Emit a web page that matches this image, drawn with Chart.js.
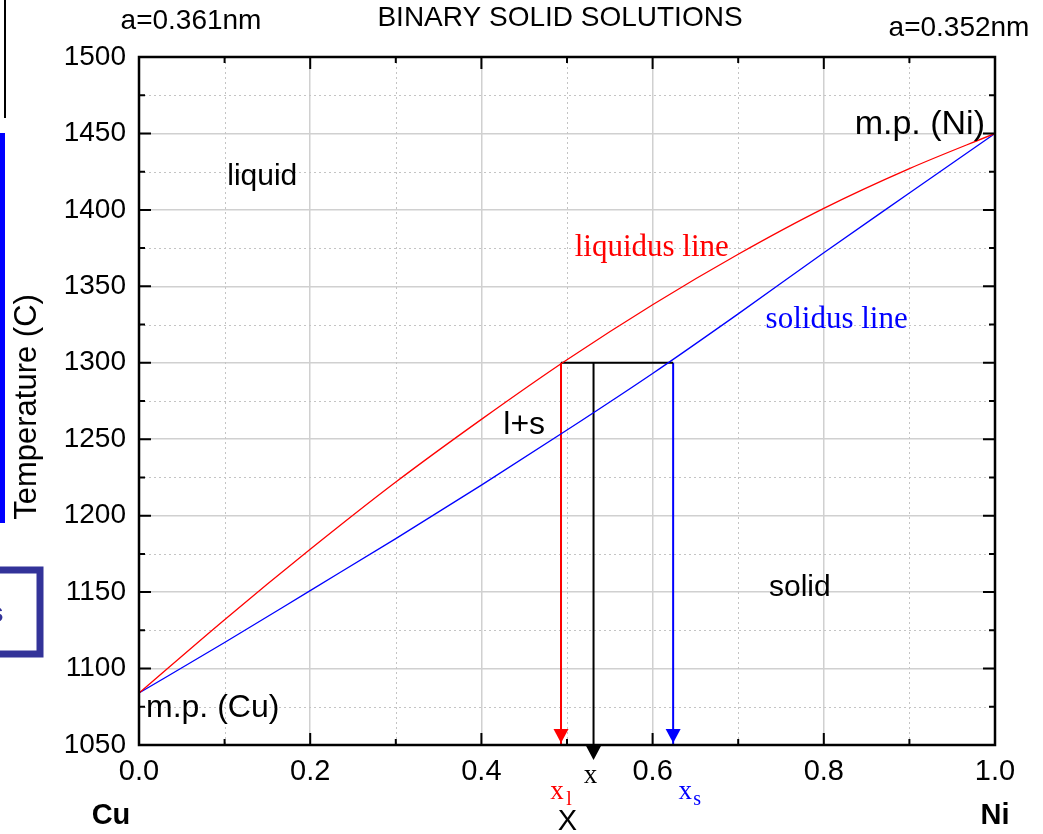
<!DOCTYPE html>
<html>
<head>
<meta charset="utf-8">
<script src="https://cdn.jsdelivr.net/npm/chart.js@4.4.1/dist/chart.umd.min.js"></script>
<style>
  html, body { margin: 0; padding: 0; background: #fff; }
  canvas { display: block; }
</style>
</head>
<body>
<canvas id="phaseChart" width="1043" height="834"></canvas>
<script>
// Cu-Ni phase diagram: composition (fraction Ni) vs temperature (C)
const composition = [0, 0.1, 0.2, 0.3, 0.4, 0.5, 0.6, 0.7, 0.8, 0.9, 1.0];
const liquidusT   = [1084, 1132, 1178, 1222, 1263, 1302, 1338, 1371, 1401, 1427, 1450];
const solidusT    = [1084, 1117, 1151, 1185, 1220, 1256, 1293, 1332, 1372, 1411, 1450];

// tie line at the chosen temperature
const tieT = 1300;
const xLiquid = 0.493;
const xSolid = 0.624;
const xAlloy = 0.531;

const xTicks = [0, 0.2, 0.4, 0.6, 0.8, 1.0];
const yTicks = [1050, 1100, 1150, 1200, 1250, 1300, 1350, 1400, 1450, 1500];

const SANS = "'Liberation Sans', Arial, sans-serif";
const SERIF = "'Liberation Serif', 'Times New Roman', serif";

const curve = (ys) => composition.map((x, i) => ({x: x, y: ys[i]}));

function text(ctx, str, x, y, font, color, align) {
    ctx.font = font;
    ctx.fillStyle = color;
    ctx.textAlign = align || 'center';
    ctx.textBaseline = 'middle';
    ctx.fillText(str, x, y);
}

function arrowHead(ctx, x, tipY, color) {
    ctx.fillStyle = color;
    ctx.beginPath();
    ctx.moveTo(x, tipY);
    ctx.lineTo(x - 7.5, tipY - 14);
    ctx.lineTo(x + 7.5, tipY - 14);
    ctx.closePath();
    ctx.fill();
}

// minor dotted grid, drawn under the curves
const minorGrid = {
    id: 'minorGrid',
    beforeDatasetsDraw(chart) {
        const {ctx, chartArea: a, scales: {x, y}} = chart;
        ctx.save();
        ctx.strokeStyle = '#c4c4c4';
        ctx.lineWidth = 1;
        ctx.setLineDash([2, 3]);
        for (let v = 0.1; v < 1; v += 0.2) {
            const p = Math.round(x.getPixelForValue(v)) + 0.5;
            ctx.beginPath(); ctx.moveTo(p, a.top); ctx.lineTo(p, a.bottom); ctx.stroke();
        }
        for (let t = 1075; t < 1500; t += 50) {
            const p = Math.round(y.getPixelForValue(t)) + 0.5;
            ctx.beginPath(); ctx.moveTo(a.left, p); ctx.lineTo(a.right, p); ctx.stroke();
        }
        ctx.restore();
    }
};

// frame, inward ticks, arrows and all labels
const decorations = {
    id: 'decorations',
    afterDraw(chart) {
        const {ctx, chartArea: a, scales: {x, y}} = chart;
        ctx.save();

        // frame
        ctx.strokeStyle = '#000';
        ctx.lineWidth = 2.5;
        ctx.strokeRect(a.left, a.top, a.right - a.left, a.bottom - a.top);

        // inward ticks on all four sides
        ctx.lineWidth = 2;
        for (let i = 0; i <= 10; i++) {
            const p = x.getPixelForValue(i / 10);
            const len = i % 2 === 0 ? 12 : 6;
            ctx.beginPath();
            ctx.moveTo(p, a.bottom); ctx.lineTo(p, a.bottom - len);
            ctx.moveTo(p, a.top); ctx.lineTo(p, a.top + len);
            ctx.stroke();
        }
        for (let t = 1050; t <= 1500; t += 25) {
            const p = y.getPixelForValue(t);
            const len = t % 50 === 0 ? 12 : 6;
            ctx.beginPath();
            ctx.moveTo(a.left, p); ctx.lineTo(a.left + len, p);
            ctx.moveTo(a.right, p); ctx.lineTo(a.right - len, p);
            ctx.stroke();
        }

        // arrow heads of the lever construction
        const base = y.getPixelForValue(1050);
        arrowHead(ctx, x.getPixelForValue(xLiquid), base - 2, '#ff0000');
        arrowHead(ctx, x.getPixelForValue(xSolid), base - 2, '#0000ff');
        ctx.fillStyle = '#000';
        ctx.beginPath();
        const xa = x.getPixelForValue(xAlloy);
        ctx.moveTo(xa - 8, base); ctx.lineTo(xa + 8, base); ctx.lineTo(xa, base + 15);
        ctx.closePath(); ctx.fill();

        // region and curve labels
        const f30 = '30px ' + SANS;
        text(ctx, 'liquid', x.getPixelForValue(0.144), y.getPixelForValue(1422), f30, '#000');
        text(ctx, 'l+s', x.getPixelForValue(0.45), y.getPixelForValue(1259), '32px ' + SANS, '#000');
        text(ctx, 'solid', x.getPixelForValue(0.772), y.getPixelForValue(1153), f30, '#000');
        text(ctx, 'm.p. (Cu)', a.left + 7, y.getPixelForValue(1074), '32px ' + SANS, '#000', 'left');
        text(ctx, 'm.p. (Ni)', a.right - 10, y.getPixelForValue(1456), '34px ' + SANS, '#000', 'right');
        text(ctx, 'liquidus line', x.getPixelForValue(0.599), y.getPixelForValue(1375), '31px ' + SERIF, '#ff0000');
        text(ctx, 'solidus line', x.getPixelForValue(0.815), y.getPixelForValue(1328), '31px ' + SERIF, '#0000ff');

        // header
        text(ctx, 'a=0.361nm', 191, 21, '28px ' + SANS, '#000');
        text(ctx, 'BINARY SOLID SOLUTIONS', 560, 18, '28px ' + SANS, '#000');
        text(ctx, 'a=0.352nm', 959, 28, '28px ' + SANS, '#000');

        // axis title
        ctx.save();
        ctx.translate(27, 407);
        ctx.rotate(-Math.PI / 2);
        text(ctx, 'Temperature (C)', 0, 0, '31px ' + SANS, '#000');
        ctx.restore();

        // composition labels under the axis
        text(ctx, 'Cu', x.getPixelForValue(0) - 28, 816, 'bold 29px ' + SANS, '#000');
        text(ctx, 'Ni', x.getPixelForValue(1), 816, 'bold 29px ' + SANS, '#000');
        text(ctx, 'X', x.getPixelForValue(xAlloy) - 26, 822, '29px ' + SANS, '#000');
        text(ctx, 'x', xa - 3, 776, '27px ' + SERIF, '#000');
        const xl = x.getPixelForValue(xLiquid);
        text(ctx, 'x', xl - 4, 792, '27px ' + SERIF, '#ff0000');
        text(ctx, 'l', xl + 8, 800, '20px ' + SERIF, '#ff0000');
        const xs = x.getPixelForValue(xSolid);
        text(ctx, 'x', xs + 12, 792, '27px ' + SERIF, '#0000ff');
        text(ctx, 's', xs + 24, 800, '20px ' + SERIF, '#0000ff');

        // slide edge pieces on the far left
        ctx.fillStyle = '#000';
        ctx.fillRect(4, 0, 2, 118);
        ctx.fillStyle = '#0000ff';
        ctx.fillRect(0, 133, 5, 390);
        ctx.strokeStyle = '#333399';
        ctx.lineWidth = 7;
        ctx.strokeRect(-20, 570, 60, 84);
        text(ctx, 's', -12, 614, 'bold 28px ' + SANS, '#333399', 'left');

        ctx.restore();
    }
};

const ctx = document.getElementById('phaseChart').getContext('2d');
const chart = new Chart(ctx, {
    type: 'line',
    data: {
        datasets: [
            {label: 'liquidus', data: curve(liquidusT), borderColor: '#ff0000', borderWidth: 1.3, cubicInterpolationMode: 'monotone'},
            {label: 'solidus', data: curve(solidusT), borderColor: '#0000ff', borderWidth: 1.3, cubicInterpolationMode: 'monotone'},
            {label: 'tie', data: [{x: xLiquid, y: tieT}, {x: xSolid, y: tieT}], borderColor: '#000', borderWidth: 2},
            {label: 'xl', data: [{x: xLiquid, y: tieT}, {x: xLiquid, y: 1050}], borderColor: '#ff0000', borderWidth: 2},
            {label: 'xs', data: [{x: xSolid, y: tieT}, {x: xSolid, y: 1050}], borderColor: '#0000ff', borderWidth: 2},
            {label: 'x', data: [{x: xAlloy, y: tieT}, {x: xAlloy, y: 1050}], borderColor: '#000', borderWidth: 2}
        ]
    },
    options: {
        responsive: false,
        animation: false,
        events: [],
        layout: {padding: {left: 0, top: 57, right: 48, bottom: 0}},
        elements: {point: {radius: 0}, line: {fill: false}},
        plugins: {legend: {display: false}, tooltip: {enabled: false}},
        scales: {
            x: {
                type: 'linear', min: 0, max: 1,
                afterBuildTicks: s => { s.ticks = xTicks.map(v => ({value: v})); },
                afterFit: s => { s.height = 89; },
                grid: {color: '#d0d0d0', lineWidth: 1.5, drawTicks: false},
                border: {display: false},
                ticks: {color: '#000', padding: 10, font: {family: SANS, size: 29}, callback: v => v.toFixed(1), maxRotation: 0}
            },
            y: {
                type: 'linear', min: 1050, max: 1500,
                afterBuildTicks: s => { s.ticks = yTicks.map(v => ({value: v})); },
                afterFit: s => { s.width = 139; },
                grid: {color: '#d0d0d0', lineWidth: 1.5, drawTicks: false},
                border: {display: false},
                ticks: {color: '#000', padding: 13, font: {family: SANS, size: 28}, callback: v => String(v)}
            }
        }
    },
    plugins: [minorGrid, decorations]
});
</script>
</body>
</html>
